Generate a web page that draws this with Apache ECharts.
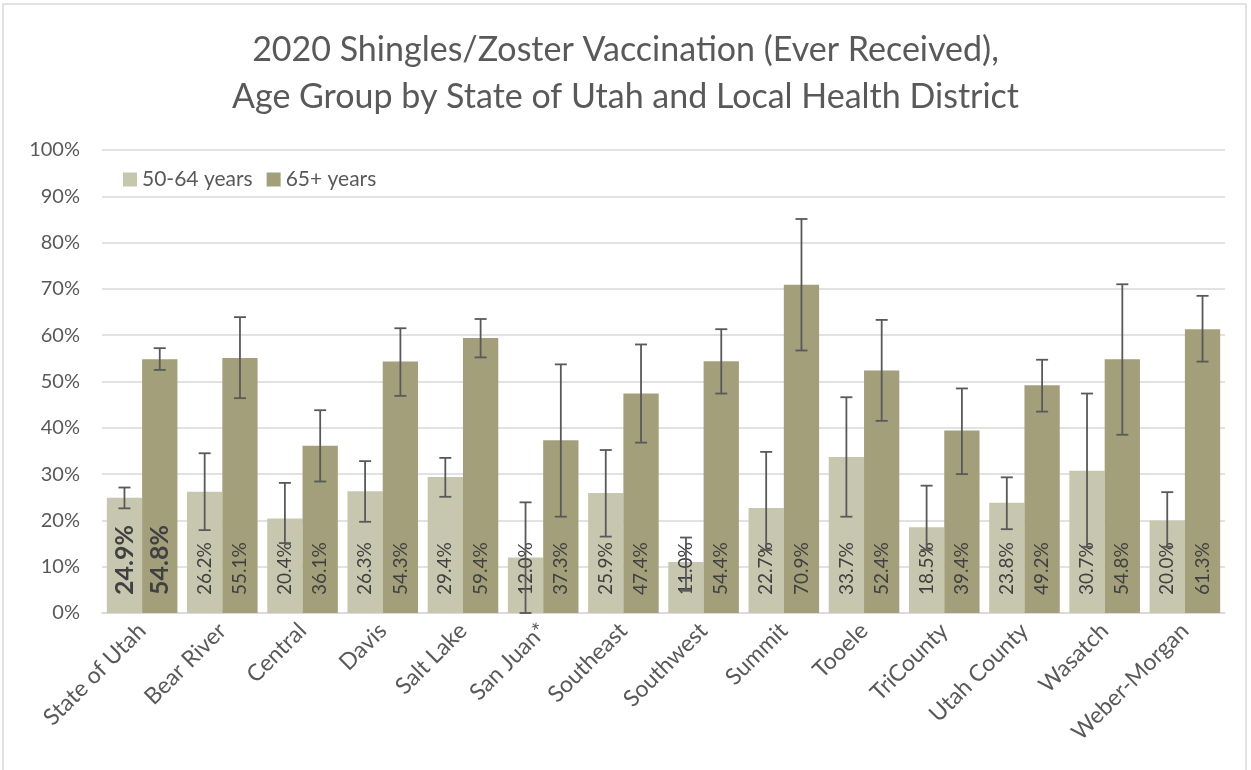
<!DOCTYPE html>
<html>
<head>
<meta charset="utf-8">
<script src="https://cdn.jsdelivr.net/npm/echarts@6/dist/echarts.min.js"></script>
<style>
html, body { margin: 0; padding: 0; background: #fff; }
#chart { width: 1251px; height: 770px; }
</style>
</head>
<body>
<div id="chart"></div>
<script>
var categories = ['State of Utah', 'Bear River', 'Central', 'Davis', 'Salt Lake', 'San Juan*', 'Southeast', 'Southwest', 'Summit', 'Tooele', 'TriCounty', 'Utah County', 'Wasatch', 'Weber-Morgan'];
var age5064 = [24.9, 26.2, 20.4, 26.3, 29.4, 12.0, 25.9, 11.0, 22.7, 33.7, 18.5, 23.8, 30.7, 20.0];
var age65 = [54.8, 55.1, 36.1, 54.3, 59.4, 37.3, 47.4, 54.4, 70.9, 52.4, 39.4, 49.2, 54.8, 61.3];
// confidence intervals
var low5064 = [22.6, 17.9, 15.1, 19.7, 25.1, 0.0, 16.5, 4.8, 13.6, 20.8, 13.6, 18.1, 14.3, 14.3];
var high5064 = [27.1, 34.5, 28.1, 32.8, 33.5, 23.9, 35.2, 16.3, 34.8, 46.6, 27.5, 29.3, 47.4, 26.1];
var low65 = [52.5, 46.4, 28.4, 46.9, 55.2, 20.8, 36.8, 47.4, 56.7, 41.5, 30.0, 43.5, 38.5, 54.3];
var high65 = [57.2, 63.9, 43.8, 61.5, 63.5, 53.7, 58.0, 61.3, 85.1, 63.3, 48.5, 54.7, 71.0, 68.5];
var yTicks = [0, 10, 20, 30, 40, 50, 60, 70, 80, 90, 100];

var FONT = 'Lato';
var GAP = 0.12;

function barData(vals) {
	return vals.map(function(v, i) {
		if (i === 0) {
			// state total is highlighted
			return { value: v, label: { fontSize: 25, fontWeight: 'bold' } };
		}
		return v;
	});
}

function errData(low, high) {
	return low.map(function(l, i) {
		return [i, l, high[i]];
	});
}

function errSeries(name, low, high, side) {
	return {
		name: name + ' CI',
		type: 'custom',
		z: 10,
		silent: true,
		renderItem: function(params, api) {
			var cat = api.value(0);
			var lo = api.coord([cat, api.value(1)]);
			var hi = api.coord([cat, api.value(2)]);
			var band = api.size([1, 0])[0];
			var bw = band * (1 - GAP) / 2;
			var x = lo[0] + side * bw / 2;
			var cap = 6;
			var st = { stroke: '#595959', lineWidth: 1.8 };
			return {
				type: 'group',
				children: [
					{ type: 'line', shape: { x1: x, y1: lo[1], x2: x, y2: hi[1] }, style: st },
					{ type: 'line', shape: { x1: x - cap, y1: lo[1], x2: x + cap, y2: lo[1] }, style: st },
					{ type: 'line', shape: { x1: x - cap, y1: hi[1], x2: x + cap, y2: hi[1] }, style: st }
				]
			};
		},
		encode: { x: 0, y: [1, 2] },
		data: errData(low, high)
	};
}

var valueLabel = {
	show: true,
	position: 'insideBottom',
	rotate: 90,
	align: 'left',
	verticalAlign: 'middle',
	distance: 18,
	fontSize: 19,
	color: '#404040',
	formatter: function(p) { return p.value.toFixed(1) + '%'; }
};

var myChart = echarts.init(document.getElementById('chart'));
var options = {
	backgroundColor: '#fff',
	animation: false,
	textStyle: { fontFamily: FONT },
	graphic: [{
		type: 'rect',
		shape: { x: 3, y: 4, width: 1243, height: 800 },
		style: { fill: 'none', stroke: '#d9d9d9', lineWidth: 1.5 },
		silent: true
	}],
	title: {
		text: '2020 Shingles/Zoster Vaccination (Ever Received),\nAge Group by State of Utah and Local Health District',
		left: 'center',
		top: 22,
		textStyle: {
			fontFamily: FONT,
			fontSize: 34,
			fontWeight: 'normal',
			color: '#595959',
			lineHeight: 47
		}
	},
	legend: {
		left: 118,
		top: 164,
		itemWidth: 14,
		itemHeight: 14,
		itemGap: 14,
		icon: 'rect',
		textStyle: { fontSize: 21, color: '#595959', fontFamily: FONT },
		data: ['50-64 years', '65+ years']
	},
	grid: {
		left: 102,
		right: 26,
		top: 150,
		bottom: 157
	},
	xAxis: {
		type: 'category',
		data: categories,
		axisTick: { show: false },
		axisLine: { lineStyle: { color: '#d9d9d9', width: 1.5 } },
		axisLabel: {
			rotate: 45,
			interval: 0,
			fontSize: 23,
			color: '#595959',
			margin: 14
		}
	},
	yAxis: {
		type: 'value',
		min: 0,
		max: 100,
		interval: 10,
		axisLine: { show: false },
		axisTick: { show: false },
		splitLine: { lineStyle: { color: '#d9d9d9', width: 1.5 } },
		axisLabel: {
			fontSize: 20,
			color: '#595959',
			margin: 22,
			formatter: function(v) {
				return yTicks.indexOf(v) >= 0 ? v + '%' : '';
			}
		}
	},
	series: [{
		name: '50-64 years',
		type: 'bar',
		barGap: '0%',
		barCategoryGap: (GAP * 100) + '%',
		itemStyle: { color: '#c7c7b0' },
		label: valueLabel,
		data: barData(age5064)
	}, {
		name: '65+ years',
		type: 'bar',
		barGap: '0%',
		barCategoryGap: (GAP * 100) + '%',
		itemStyle: { color: '#a39f7b' },
		label: valueLabel,
		data: barData(age65)
	},
	errSeries('50-64 years', low5064, high5064, -1),
	errSeries('65+ years', low65, high65, 1)
	]
};
myChart.setOption(options);
</script>
</body>
</html>
